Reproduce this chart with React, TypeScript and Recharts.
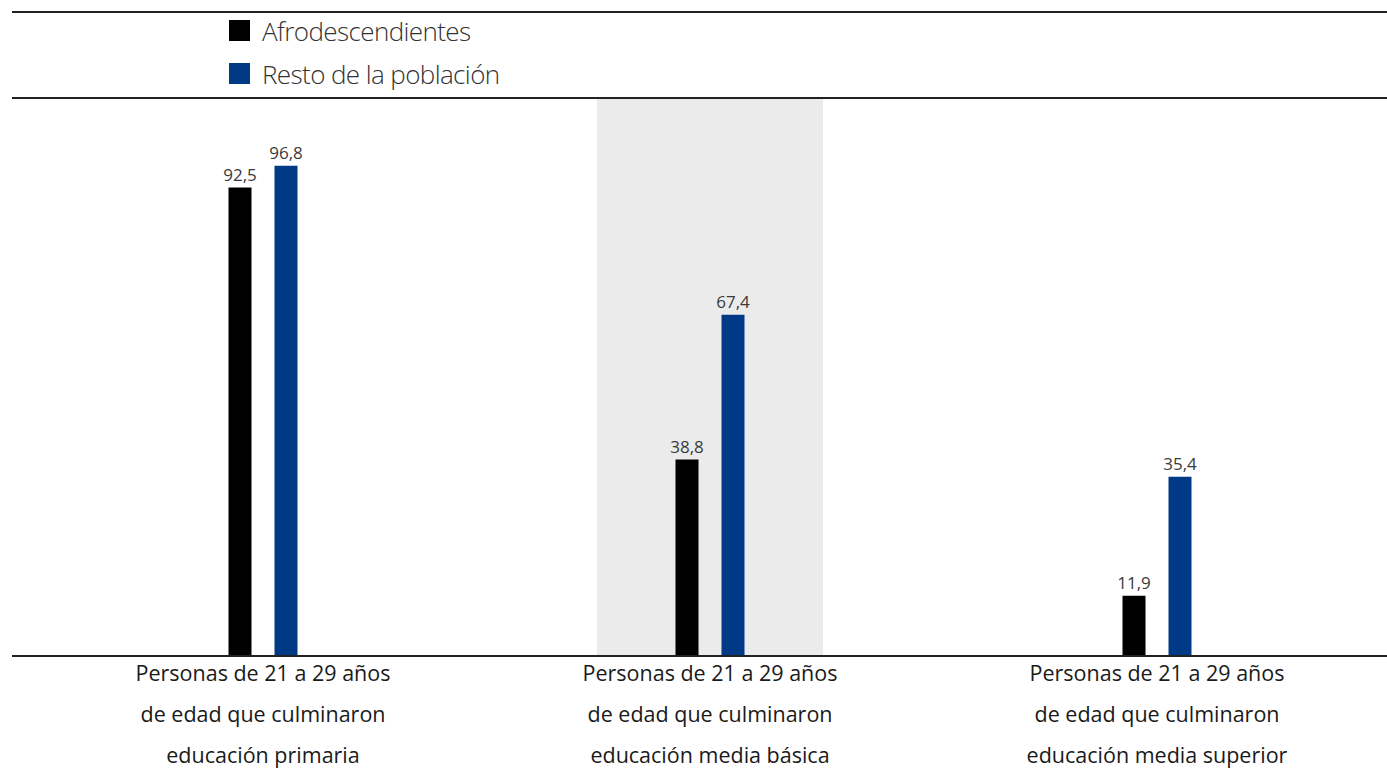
import { BarChart, Bar, XAxis, YAxis, LabelList, ReferenceArea } from 'recharts';

const categories = [
  'Personas de 21 a 29 años|de edad que culminaron|educación primaria',
  'Personas de 21 a 29 años|de edad que culminaron|educación media básica',
  'Personas de 21 a 29 años|de edad que culminaron|educación media superior',
];
const afro = [92.5, 38.8, 11.9];
const resto = [96.8, 67.4, 35.4];
const seriesNames = ['Afrodescendientes', 'Resto de la población'];
const seriesColors = ['#000000', '#003a87'];
const highlighted = categories[1];

const data = categories.map((c, i) => ({ category: c, afro: afro[i], resto: resto[i] }));

const FONT = '"Open Sans", "Noto Sans", sans-serif';
const fmt = (v: any) => Number(v).toFixed(1).replace('.', ',');

const CategoryTick = ({ x, y, payload }: any) => {
  const lines = String(payload.value).split('|');
  return (
    <g transform={`translate(${x},${y})`}>
      {lines.map((l, i) => (
        <text key={i} x={0} y={17 + i * 41} textAnchor="middle" fill="#1a1a1a" fontSize={21.5} fontFamily={FONT} fontWeight={500}>
          {l}
        </text>
      ))}
    </g>
  );
};

const Rule = ({ top }: { top: number }) => (
  <div style={{ position: 'absolute', left: 12, top, width: 1375, height: 2, background: '#222' }} />
);

export default function App() {
  return (
    <div style={{ position: 'absolute', left: 0, top: 0, width: 1387, height: 783, background: '#fff' }}>
      <Rule top={11} />
      <Rule top={97} />
      <div style={{ position: 'absolute', left: 229, top: 9, fontFamily: FONT, fontSize: 26, fontWeight: 300, color: '#333' }}>
        {seriesNames.map((n, i) => (
          <div key={n} style={{ display: 'flex', alignItems: 'center', height: 43 }}>
            <span style={{ width: 21, height: 21, background: seriesColors[i], marginRight: 12, display: 'inline-block' }} />
            <span style={{ letterSpacing: -0.6 }}>{n}</span>
          </div>
        ))}
      </div>
      <div style={{ position: 'absolute', left: 0, top: 0 }}>
        <BarChart
          width={1387}
          height={783}
          data={data}
          margin={{ top: 99, right: 0, bottom: 0, left: 12 }}
          barSize={23}
          barGap={23}
        >
          <YAxis hide domain={[0, 110]} />
          <XAxis
            dataKey="category"
            height={127}
            padding={{ left: 27.5, right: 6.5 }}
            axisLine={{ stroke: '#222', strokeWidth: 2 }}
            tickLine={false}
            interval={0}
            tick={<CategoryTick />}
          />
          <ReferenceArea
            x1={highlighted}
            x2={highlighted}
            y1={0}
            y2={110}
            shape={(p: any) => (
              <rect x={p.x + p.width * 0.247} y={p.y} width={p.width * 0.506} height={p.height} fill="#ebebeb" />
            )}
          />
          <Bar dataKey="afro" name={seriesNames[0]} fill={seriesColors[0]} isAnimationActive={false}>
            <LabelList dataKey="afro" position="top" offset={7} formatter={fmt} fill="#3a3a3a" fontSize={17} fontFamily={FONT} />
          </Bar>
          <Bar dataKey="resto" name={seriesNames[1]} fill={seriesColors[1]} isAnimationActive={false}>
            <LabelList dataKey="resto" position="top" offset={7} formatter={fmt} fill="#3a3a3a" fontSize={17} fontFamily={FONT} />
          </Bar>
        </BarChart>
      </div>
    </div>
  );
}
